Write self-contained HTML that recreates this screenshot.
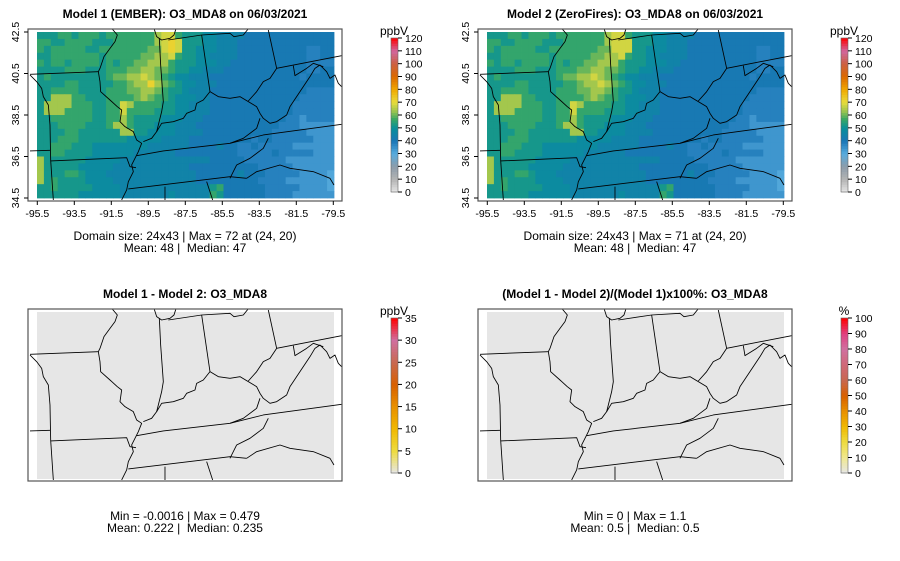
<!DOCTYPE html>
<html><head><meta charset="utf-8">
<style>
html,body{margin:0;padding:0;background:#fff;}
svg{display:block;font-family:"Liberation Sans",sans-serif;}
text{white-space:pre;}
</style></head>
<body>
<svg id="chart" width="900" height="561" viewBox="0 0 900 561">
<defs>
<clipPath id="clipA"><rect x="28" y="29" width="314" height="172"/></clipPath>
<clipPath id="clipB"><rect x="478" y="29" width="314" height="172"/></clipPath>
<clipPath id="clipC"><rect x="28" y="309" width="314" height="173"/></clipPath>
<clipPath id="clipD"><rect x="478" y="309" width="314" height="173"/></clipPath>
</defs>
</svg>
<script>
// ---- data ----
const levelChars = "abcdefghijkl";
const levelValues = [31,34,38,41,45,48,52,56,60,64,68,72];
const model1Rows = [
"ggghhghhhghhhhhhhjkkhgggffeeeedddddddddddd",
"hhgghhhhggghhhhhhjklkgggffeeeddddddddddddd",
"hghhhhhgghhhhhhhiiklkggfffeeeddddddddddccd",
"gghhhhhhhghhhhhiijjkhggffeeeeddddddddddccd",
"hghhghhhhghghhiijjjhgggfffeedddddddddddccc",
"gggghhhggghhhiijjiihggffeeeddddddddddddccd",
"ghgggggggghiijjkjihgffeeedddddddddddddcdd",
"gggghhggggghhijjljihgffeeedddddddddddddddd",
"gghhhhgggghhhiijjihggfeeeddddddddddddddccc",
"ggjjjhhggghhhhijihhgfffeedddddddddddddcccc",
"gjjjjhhhgghhkjhhhhggffeeeddddddddddddccccc",
"gjjjhhhhgghhkhhhhgggffeeeddddddddddddccccc",
"gghhhhhhgghhjhggggfffeeeddddddddddddccbcc",
"ggghhhhggghjjhgggfffeeeddddddddddddcccbbb",
"gggghhggggggjjggffffeeeeddddddddddcccccbbb",
"ggghhhgggggggfffffeeeedddddddddcddccccccbbb",
"gghhhgggffffffffeeeeeeddddeddccdcccccbbbbb",
"gghhggggffffffeeeeeedddddddddcccccdcccccbbb",
"jggggggfffffeeeeeeeeeeeeedddddccccccbbbbbb",
"jgggggfffffeeeeeeeeeeeddddddddddcccccbbbbbb",
"jggghhgfffeeeeeeeeeeeeeddddddedddcccccbbbba",
"jghggggffffeeeeeeeeeeeedddddddddccccbbbbbba",
"gghgggggffffeeeeeeeeeeeeeghddddddcccccbbbba",
"ggggggffffffeeeeeeefeeeeehgddddddccccbbbbbb"
];
const model2Rows = [
"ggghhghhhghhhhhhhjkkhgggffeeeedddddddddddd",
"hhgghhhhggghhhhhhjkkkgggffeeeddddddddddddd",
"hghhhhhgghhhhhhhiikkkggfffeeeddddddddddccd",
"gghhhhhhhghhhhhiijjkhggffeeeeddddddddddccd",
"hghhghhhhghghhiijjjhgggfffeedddddddddddccc",
"gggghhhggghhhiijjiihggffeeeddddddddddddccd",
"ghgggggggghiijjkjihgffeeedddddddddddddcdd",
"gggghhggggghhijjkjihgffeeedddddddddddddddd",
"gghhhhgggghhhiijjihggfeeeddddddddddddddccc",
"ggjjjhhggghhhhijihhgfffeedddddddddddddcccc",
"gjjjjhhhgghhkjhhhhggffeeeddddddddddddccccc",
"gjjjhhhhgghhkhhhhgggffeeeddddddddddddccccc",
"gghhhhhhgghhjhggggfffeeeddddddddddddccbcc",
"ggghhhhggghjjhgggfffeeeddddddddddddcccbbb",
"gggghhggggggjjggffffeeeeddddddddddcccccbbb",
"ggghhhgggggggfffffeeeedddddddddcddccccccbbb",
"gghhhgggffffffffeeeeeeddddeddccdcccccbbbbb",
"gghhggggffffffeeeeeedddddddddcccccdcccccbbb",
"jggggggfffffeeeeeeeeeeeeedddddccccccbbbbbb",
"jgggggfffffeeeeeeeeeeeddddddddddcccccbbbbbb",
"jggghhgfffeeeeeeeeeeeeeddddddedddcccccbbbba",
"jghggggffffeeeeeeeeeeeedddddddddccccbbbbbba",
"gghgggggffffeeeeeeeeeeeeeghddddddcccccbbbba",
"ggggggffffffeeeeeeefeeeeehgddddddccccbbbbbb"
];
const xTickLabels = ["-95.5","-93.5","-91.5","-89.5","-87.5","-85.5","-83.5","-81.5","-79.5"];
const xTickValues = [-95.5,-93.5,-91.5,-89.5,-87.5,-85.5,-83.5,-81.5,-79.5];
const yTickLabels = ["42.5","40.5","38.5","36.5","34.5"];
const yTickValues = [42.5,40.5,38.5,36.5,34.5];
const o3Ticks = [0,10,20,30,40,50,60,70,80,90,100,110,120];
const diffTicks = [0,5,10,15,20,25,30,35];
const pctTicks = [0,10,20,30,40,50,60,70,80,90,100];
const nRows = 24, nCols = 43;

// ---- helpers ----
const NS="http://www.w3.org/2000/svg";
const svg=document.getElementById('chart');
function mk(tag,attrs,parent){const e=document.createElementNS(NS,tag);for(const k in attrs)e.setAttribute(k,attrs[k]);(parent||svg).appendChild(e);return e;}
function hex(c){return [parseInt(c.slice(1,3),16),parseInt(c.slice(3,5),16),parseInt(c.slice(5,7),16)];}
const o3Stops=[[0,"#e6e6e6"],[10,"#b4b4b4"],[20,"#8c9caa"],[30,"#58acde"],[40,"#1a76b6"],[50,"#08909a"],[57,"#3aa864"],[63,"#98c450"],[70,"#e8dc3c"],[80,"#f0a800"],[90,"#dc6a00"],[100,"#cc6040"],[110,"#d068a0"],[120,"#ff0000"]];
const diffStops=[[0,"#e6e6e6"],[5,"#eedc40"],[10,"#f0b800"],[15,"#e89000"],[20,"#d86000"],[25,"#c86850"],[30,"#d070a0"],[35,"#ff0000"]];
const pctStops=[[0,"#e6e6e6"],[10,"#f0e890"],[20,"#eedc40"],[30,"#f0b800"],[40,"#e89000"],[50,"#d86000"],[60,"#c86850"],[70,"#d06878"],[80,"#d070a0"],[90,"#e04080"],[100,"#ff0000"]];
function colorAt(stops,v){
  if(v<=stops[0][0])return stops[0][1];
  for(let i=1;i<stops.length;i++){if(v<=stops[i][0]){const t=(v-stops[i-1][0])/(stops[i][0]-stops[i-1][0]);const a=hex(stops[i-1][1]),b=hex(stops[i][1]);return "rgb("+a.map((x,j)=>Math.round(x+(b[j]-x)*t)).join(",")+")";}}
  return stops[stops.length-1][1];
}
const colX=(c,dx)=>dx+37+c*(297/nCols);
const rowY=(r,dy)=>dy+32+r*(166/nRows);
const lonX=(lon,dx)=>dx+37.3+(lon+95.5)*18.5;
const latY=(lat,dy)=>dy+32+(42.5-lat)*20.75;

const mapPaths=[
"M0,148 L205,140","M235,12 L300,6",
"M245,10 L262,30 L255,50 L240,70 L222,95 L210,130 L205,140 L210,170 L212,200 L240,225 L262,245 L275,255 L270,290 L285,305 L310,320 L320,345 L335,355 L325,380 L315,400 L305,420 L310,440 L295,470 L290,495 L275,525",
"M0,150 L20,170 L35,190 L40,215 L55,240 L60,300 L62,405 L70,525",
"M0,378 L60,376","M62,408 L290,398 L300,425 L318,428",
"M372,10 L380,35 L395,45 L420,40 L432,30 L440,5",
"M388,40 L392,120 L400,230 L395,260 L385,300 L380,320",
"M415,45 L515,30 L600,25 L612,35 L640,30 L660,5",
"M340,350 L365,340 L380,320 L395,295 L430,290 L460,280 L470,265 L495,255 L500,235 L520,225 L540,200 L565,215 L600,220 L630,215 L655,230 L680,245 L690,265 L700,280 L720,295 L740,290 L770,270 L780,245 L800,215 L820,185 L840,155 L855,130 L870,120 L890,140 L900,160 L915,150 L925,175 L935,185",
"M515,30 L540,200","M715,15 L740,130 L720,160 L700,170 L680,200 L655,228",
"M740,130 L935,92","M790,122 L795,152 L830,130 L850,115 L880,125",
"M320,392 L400,378 L600,355 L700,330 L935,298",
"M600,355 L640,340 L680,310 L690,280",
"M600,460 L620,420 L660,400 L700,370 L715,340",
"M650,460 L680,440 L750,420 L780,430 L850,440 L900,460 L912,480",
"M295,492 L600,455 L650,460","M405,485 L405,525","M530,470 L548,525"
];

function drawMap(dx,dy,clip,name){
  const wrap=mk('g',{'clip-path':`url(#${clip})`});
  
  
  const g=mk('g',{transform:`translate(${30+dx},${25+dy}) scale(0.3333)`},wrap);
  mapPaths.forEach(d=>{const p=mk('path',{d:d,fill:'none',stroke:'#000','stroke-width':2.6,'stroke-linejoin':'round'},g);
    
    });
}
function text(x,y,s,attrs,name){const t=mk('text',Object.assign({x:x,y:y},attrs||{}));t.textContent=s;
  
  return t;}

function drawFrame(dx,dy,name){
  const r=mk('rect',{x:28+dx,y:29+dy,width:314,height:172,fill:'none',stroke:'#555','stroke-width':1.2});
  
  
}
function drawAxes(dx){
  xTickValues.forEach((v,i)=>{const x=lonX(v,dx);mk('line',{x1:x,y1:201,x2:x,y2:205,stroke:'#000'});
    text(x,217,xTickLabels[i],{'font-size':10.5,'text-anchor':'middle'},'x-tick-label');});
  yTickValues.forEach((v,i)=>{const y=latY(v,0);mk('line',{x1:28+dx,y1:y,x2:24+dx,y2:y,stroke:'#000'});
    text(0,0,yTickLabels[i],{'font-size':10.5,'text-anchor':'middle',transform:`translate(${19+dx},${y}) rotate(-90)`},'y-tick-label');});
}
function drawHeat(rows,dx,name){
  const g=mk('g',{});
  
  
  rows.forEach((row,r)=>{for(let c=0;c<nCols;c++){const ch=row[Math.min(c,row.length-1)];const v=levelValues[levelChars.indexOf(ch)];
    const x0=colX(c,dx),x1=colX(c+1,dx),y0=rowY(r,0),y1=rowY(r+1,0);
    const cell=mk('rect',{x:x0,y:y0,width:x1-x0+0.4,height:y1-y0+0.4,fill:colorAt(o3Stops,v)},g);
    
    }});
}
function drawBar(x,top,bottom,stops,ticks,unit,name){
  const g=mk('g',{});
  
  
  const max=ticks[ticks.length-1],n=60;
  for(let i=0;i<n;i++){const v0=i/n*max;const y=bottom-(i+1)/n*(bottom-top);
    mk('rect',{x:x,y:y,width:7,height:(bottom-top)/n+0.5,fill:colorAt(stops,v0+max/n/2)},g);}
  mk('rect',{x:x,y:top,width:7,height:bottom-top,fill:'none',stroke:'#666','stroke-width':0.6},g);
  ticks.forEach(t=>{const y=bottom-t/max*(bottom-top);mk('line',{x1:x+7,y1:y,x2:x+11,y2:y,stroke:'#000'},g);
    text(x+14,y+4,String(t),{'font-size':10.5},'colorbar-tick-label');});
  text(x+3,top-3,unit,{'font-size':12,'text-anchor':'middle'},'colorbar-unit');
}

[[0,model1Rows,"Model 1 (EMBER): O3_MDA8 on 06/03/2021","Domain size: 24x43 | Max = 72 at (24, 20)","Mean: 48 |  Median: 47","model1"],
 [450,model2Rows,"Model 2 (ZeroFires): O3_MDA8 on 06/03/2021","Domain size: 24x43 | Max = 71 at (24, 20)","Mean: 48 |  Median: 47","model2"]].forEach(([dx,rows,title,l1,l2,nm],k)=>{
  drawHeat(rows,dx,nm+'-heatmap');
  drawMap(dx,0,k?'clipB':'clipA',nm+'-map-outlines');
  drawFrame(dx,0,nm+'-plot-frame');
  drawAxes(dx);
  text(185+dx,18,title,{'font-size':12,'font-weight':'bold','text-anchor':'middle'},nm+'-title');
  text(185+dx,240,l1,{'font-size':12,'text-anchor':'middle'},nm+'-domain-stats');
  text(185+dx,252,l2,{'font-size':12,'text-anchor':'middle'},nm+'-mean-median');
  drawBar(391+dx,38,192,o3Stops,o3Ticks,'ppbV',nm+'-colorbar');
});
[[0,"Model 1 - Model 2: O3_MDA8","Min = -0.0016 | Max = 0.479","Mean: 0.222 |  Median: 0.235",diffStops,diffTicks,'ppbV','diff'],
 [450,"(Model 1 - Model 2)/(Model 1)x100%: O3_MDA8","Min = 0 | Max = 1.1","Mean: 0.5 |  Median: 0.5",pctStops,pctTicks,'%','pct-diff']].forEach(([dx,title,l1,l2,stops,ticks,unit,nm],k)=>{
  const bg=mk('rect',{x:37+dx,y:312,width:297,height:167,fill:'#e6e6e6'});
  
  
  drawMap(dx,280,k?'clipD':'clipC',nm+'-map-outlines');
  drawFrame(dx,280,nm+'-plot-frame');
  text(185+dx,298,title,{'font-size':12,'font-weight':'bold','text-anchor':'middle'},nm+'-title');
  text(185+dx,520,l1,{'font-size':12,'text-anchor':'middle'},nm+'-min-max');
  text(185+dx,532,l2,{'font-size':12,'text-anchor':'middle'},nm+'-mean-median');
  drawBar(391+dx,318,473,stops,ticks,unit,nm+'-colorbar');
});
</script>
</body></html>
